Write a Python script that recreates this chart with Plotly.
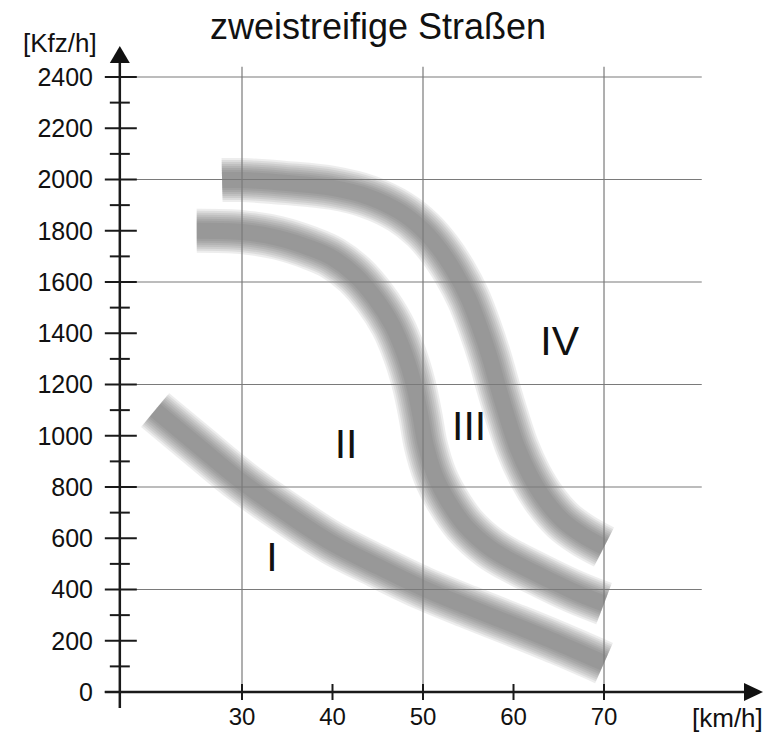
import plotly.graph_objects as go

# ---------------- data ----------------
speed_I = [20.4, 25, 30, 35, 40, 45, 50, 55, 60, 65, 70]
flow_I = [1100, 965, 820, 695, 580, 490, 405, 332, 262, 190, 113]

speed_II = [25, 30, 34, 37.5, 40, 42.5, 44.7, 46.6, 48, 49, 49.7, 50.3, 51.3,
            52.7, 54.6, 57.4, 60, 63.5, 66.8, 70]
flow_II = [1800, 1795, 1772, 1733, 1694, 1627, 1537, 1432, 1315, 1198, 1081,
           964, 847, 749, 652, 562, 507, 445, 390, 345]

speed_III = [27.8, 30, 35, 40, 44, 47.5, 50, 51.9, 53.5, 55, 56.3, 57.4, 58.3,
             59.3, 60.4, 61.8, 63.5, 65.4, 67.6, 70]
flow_III = [1998, 1998, 1986, 1967, 1932, 1873, 1803, 1725, 1639, 1538, 1420,
            1303, 1190, 1073, 956, 847, 749, 671, 613, 566]

region_labels = ["I", "II", "III", "IV"]
region_x = [33.3, 41.5, 55.1, 65.1]
region_y = [512, 952, 1022, 1354]

x_ticks = [30, 40, 50, 60, 70]
y_ticks = list(range(0, 2401, 200))
y_minor = list(range(100, 2400, 200))
grid_x = [30, 50, 70]
grid_y = [400, 800, 1200, 1600, 2000, 2400]

title_text = "zweistreifige Straßen"
y_unit = "[Kfz/h]"
x_unit = "[km/h]"

# ---------------- layout geometry ----------------
FONT = "Liberation Sans, Arial, sans-serif"
X_RANGE = [14.31, 88.12]
Y_RANGE = [-66.3, 2544.4]
PLOT_W = 668
PLOT_H = 669
PX_X = PLOT_W / (X_RANGE[1] - X_RANGE[0])   # px per x unit
PX_Y = PLOT_H / (Y_RANGE[1] - Y_RANGE[0])   # px per y unit
X0 = 16.5          # where the vertical axis sits
GRID_X_END = 80.8
GRID_Y_END = 2440


def dx(px):
    return px / PX_X


def dy(px):
    return px / PX_Y


fig = go.Figure()

# fuzzy grey bands
band_widths = [44, 40, 36, 32, 28, 24, 20, 16]
band_alpha = 0.1
for xs, ys in [(speed_I, flow_I), (speed_II, flow_II), (speed_III, flow_III)]:
    for w in band_widths:
        fig.add_trace(go.Scatter(
            x=xs, y=ys, mode="lines",
            line=dict(color="rgb(85,85,85)", width=w, shape="spline", smoothing=1),
            opacity=band_alpha, hoverinfo="skip", showlegend=False))

# region numerals
fig.add_trace(go.Scatter(
    x=region_x, y=region_y, mode="text", text=region_labels,
    textfont=dict(family=FONT, size=41, color="#111111"),
    textposition="middle center", hoverinfo="skip", showlegend=False))

shapes = []
grid_style = dict(color="#7a7a7a", width=1.2)
for gx in grid_x:
    shapes.append(dict(type="line", xref="x", yref="y", x0=gx, x1=gx,
                       y0=0, y1=GRID_Y_END, line=grid_style, layer="above"))
for gy in grid_y:
    shapes.append(dict(type="line", xref="x", yref="y", x0=X0, x1=GRID_X_END,
                       y0=gy, y1=gy, line=grid_style, layer="above"))

axis_style = dict(color="#1a1a1a", width=2.5)
# y axis line
shapes.append(dict(type="line", xref="x", yref="y", x0=X0, x1=X0,
                   y0=-dy(16), y1=2400 + dy(14), line=axis_style))
# x axis line
shapes.append(dict(type="line", xref="x", yref="y", x0=X0 - dx(15), x1=70 + dx(145),
                   y0=0, y1=0, line=axis_style))
# arrow heads
tip_y = 2400 + dy(31)
shapes.append(dict(type="path", xref="x", yref="y",
                   path=f"M {X0 - dx(10)},{tip_y - dy(17)} L {X0 + dx(10)},{tip_y - dy(17)} L {X0},{tip_y} Z",
                   fillcolor="#111111", line=dict(width=0)))
tip_x = 70 + dx(159)
shapes.append(dict(type="path", xref="x", yref="y",
                   path=f"M {tip_x - dx(19)},{dy(9)} L {tip_x - dx(19)},{-dy(9)} L {tip_x},0 Z",
                   fillcolor="#111111", line=dict(width=0)))
# y ticks (crossing the axis)
tick_style = dict(color="#1a1a1a", width=2)
for t in y_ticks:
    shapes.append(dict(type="line", xref="x", yref="y", x0=X0 - dx(15), x1=X0 + dx(17),
                       y0=t, y1=t, line=tick_style))
for t in y_minor:
    shapes.append(dict(type="line", xref="x", yref="y", x0=X0 - dx(10), x1=X0 + dx(10),
                       y0=t, y1=t, line=tick_style))
for t in x_ticks:
    shapes.append(dict(type="line", xref="x", yref="y", x0=t, x1=t,
                       y0=-dy(8), y1=dy(8), line=tick_style))

annotations = [
    dict(text=title_text, xref="paper", yref="paper", x=(377.5 - 100) / PLOT_W,
         y=(709 - 26) / PLOT_H, xanchor="center", yanchor="middle", showarrow=False,
         font=dict(family=FONT, size=36, color="#111111")),
    dict(text=y_unit, xref="paper", yref="paper", x=(60 - 100) / PLOT_W,
         y=(709 - 43) / PLOT_H, xanchor="center", yanchor="middle", showarrow=False,
         font=dict(family=FONT, size=26, color="#111111")),
    dict(text=x_unit, xref="paper", yref="paper", x=(727 - 100) / PLOT_W,
         y=(709 - 718) / PLOT_H, xanchor="center", yanchor="middle", showarrow=False,
         font=dict(family=FONT, size=26, color="#111111")),
]

fig.update_layout(
    width=770, height=732,
    margin=dict(l=100, r=2, t=40, b=23),
    paper_bgcolor="white", plot_bgcolor="white",
    shapes=shapes, annotations=annotations,
    showlegend=False,
    xaxis=dict(range=X_RANGE, showgrid=False, zeroline=False, showline=False,
               tickvals=x_ticks, ticktext=[str(v) for v in x_ticks], ticks="",
               tickfont=dict(family=FONT, size=24, color="#111111"),
               ticklabelstandoff=-9, automargin=False, fixedrange=True),
    yaxis=dict(range=Y_RANGE, showgrid=False, zeroline=False, showline=False,
               tickvals=y_ticks, ticktext=[str(v) for v in y_ticks], ticks="",
               tickfont=dict(family=FONT, size=25, color="#111111"),
               ticklabelstandoff=6, automargin=False, fixedrange=True),
)

fig.write_html("out.html", config={"displayModeBar": False},
               post_script="document.body.style.margin='0';document.body.style.overflow='hidden';")
